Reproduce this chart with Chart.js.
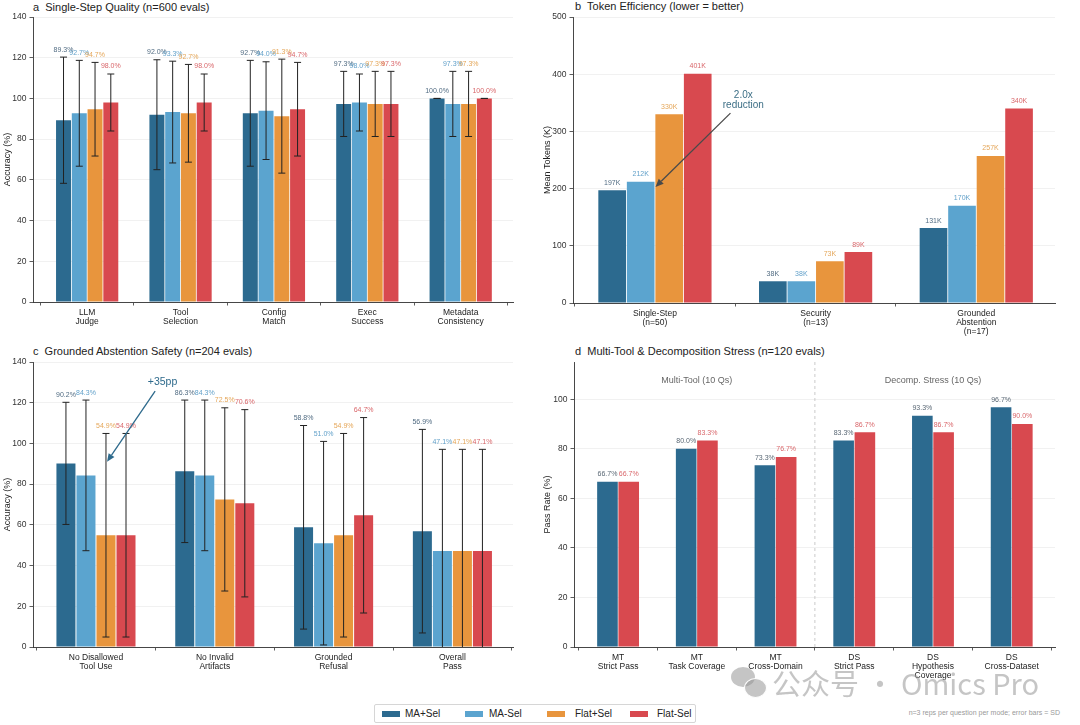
<!DOCTYPE html>
<html>
<head>
<meta charset="utf-8">
<script src="https://cdn.jsdelivr.net/npm/chart.js@4.4.1/dist/chart.umd.min.js"></script>
<style>
html,body{margin:0;padding:0;background:#fff;}
body{width:1080px;height:725px;position:relative;overflow:hidden;font-family:'Liberation Sans',Arial,sans-serif;}
.pc{position:absolute;}
.pc canvas{display:block;}
.ttl{position:absolute;font-size:11px;line-height:13px;color:#222;white-space:pre;}
#legend{position:absolute;left:374px;top:704px;width:322px;height:19px;border:1px solid #d6d6d6;border-radius:2px;box-sizing:border-box;background:#fff;}
.sw{position:absolute;top:6px;width:18px;height:6px;}
.lt{position:absolute;top:3px;font-size:10px;line-height:11px;color:#222;}
#note{position:absolute;right:20px;top:709px;font-size:7px;color:#999;white-space:nowrap;}
#wm{position:absolute;left:772px;top:666px;font-size:29px;line-height:32px;color:rgba(150,150,150,0.55);white-space:nowrap;font-family:'Noto Sans CJK SC','Liberation Sans',sans-serif;}
.bub{position:absolute;border-radius:50%;background:rgba(150,150,150,0.55);}
</style>
</head>
<body>
<div class="ttl" style="left:33px;top:1px;">a  Single-Step Quality (n=600 evals)</div>
<div class="ttl" style="left:575px;top:0px;">b  Token Efficiency (lower = better)</div>
<div class="ttl" style="left:33px;top:345px;">c  Grounded Abstention Safety (n=204 evals)</div>
<div class="ttl" style="left:575px;top:345px;">d  Multi-Tool &amp; Decomposition Stress (n=120 evals)</div>

<div class="pc" style="left:0;top:0;width:540px;height:345px;"><canvas id="cA"></canvas></div>
<div class="pc" style="left:540px;top:0;width:540px;height:345px;"><canvas id="cB"></canvas></div>
<div class="pc" style="left:0;top:345px;width:540px;height:345px;"><canvas id="cC"></canvas></div>
<div class="pc" style="left:540px;top:345px;width:540px;height:345px;"><canvas id="cD"></canvas></div>

<div class="bub" style="left:731px;top:667px;width:24px;height:20px;"></div>
<div class="bub" style="left:744px;top:678px;width:21px;height:18px;border:1.5px solid #fff;"></div>
<div id="wm">公众号 · Omics Pro</div>

<div id="legend">
  <div class="sw" style="left:7px;background:#2c6a8f;"></div><div class="lt" style="left:30px;">MA+Sel</div>
  <div class="sw" style="left:90px;background:#5ba4cf;"></div><div class="lt" style="left:114px;">MA-Sel</div>
  <div class="sw" style="left:172px;background:#e8953d;"></div><div class="lt" style="left:200px;">Flat+Sel</div>
  <div class="sw" style="left:255px;background:#d8494f;"></div><div class="lt" style="left:282px;">Flat-Sel</div>
</div>
<div id="note">n=3 reps per question per mode; error bars = SD</div>

<script>
// ---------------- DATA ----------------
const seriesNames = ['MA+Sel', 'MA-Sel', 'Flat+Sel', 'Flat-Sel'];

// Panel a: Single-Step Quality (accuracy %, SD)
const catsA = [['LLM','Judge'],['Tool','Selection'],['Config','Match'],['Exec','Success'],['Metadata','Consistency']];
const aMAplus    = [89.3, 92.0, 92.7, 97.3, 100.0];
const aMAminus   = [92.7, 93.3, 94.0, 98.0, 97.3];
const aFlatplus  = [94.7, 92.7, 91.3, 97.3, 97.3];
const aFlatminus = [98.0, 98.0, 94.7, 97.3, 100.0];
const aSdMAplus    = [31, 27, 26, 16, 0];
const aSdMAminus   = [26, 25, 24, 14, 16];
const aSdFlatplus  = [23, 24, 28, 16, 16];
const aSdFlatminus = [14, 14, 23, 16, 0];
const ticksA = [0, 20, 40, 60, 80, 100, 120, 140];

// Panel b: Token Efficiency (mean tokens, K)
const catsB = [['Single-Step','(n=50)'],['Security','(n=13)'],['Grounded','Abstention','(n=17)']];
const bMAplus    = [197, 38, 131];
const bMAminus   = [212, 38, 170];
const bFlatplus  = [330, 73, 257];
const bFlatminus = [401, 89, 340];
const ticksB = [0, 100, 200, 300, 400, 500];

// Panel c: Grounded Abstention Safety (accuracy %, SD)
const catsC = [['No Disallowed','Tool Use'],['No Invalid','Artifacts'],['Grounded','Refusal'],['Overall','Pass']];
const cMAplus    = [90.2, 86.3, 58.8, 56.9];
const cMAminus   = [84.3, 84.3, 51.0, 47.1];
const cFlatplus  = [54.9, 72.5, 54.9, 47.1];
const cFlatminus = [54.9, 70.6, 64.7, 47.1];
const cSdMAplus    = [30, 35, 50, 50];
const cSdMAminus   = [37, 37, 50, 50];
const cSdFlatplus  = [50, 45, 50, 50];
const cSdFlatminus = [50, 46, 48, 50];
const ticksC = [0, 20, 40, 60, 80, 100, 120, 140];

// Panel d: Multi-Tool & Decomposition Stress (pass rate %)
const catsD = [['MT','Strict Pass'],['MT','Task Coverage'],['MT','Cross-Domain'],['DS','Strict Pass'],['DS','Hypothesis','Coverage'],['DS','Cross-Dataset']];
const dMAplus    = [66.7, 80.0, 73.3, 83.3, 93.3, 96.7];
const dFlatminus = [66.7, 83.3, 76.7, 86.7, 86.7, 90.0];
const groupNamesD = ['Multi-Tool (10 Qs)', 'Decomp. Stress (10 Qs)'];
const ticksD = [0, 20, 40, 60, 80, 100];

// ---------------- STYLE ----------------
const FONT = "'Liberation Sans', Arial, sans-serif";
const COL = ['#2c6a8f', '#5ba4cf', '#e8953d', '#d8494f'];
const LABCOL = ['rgba(60,90,115,0.9)', 'rgba(80,150,195,0.9)', 'rgba(225,150,60,0.85)', 'rgba(210,75,80,0.85)'];

function mkds(label, vals, color) {
  return { label, data: vals.map((v, i) => ({ x: i, y: v })), backgroundColor: color, borderWidth: 0 };
}

function yScale(max, ticks, title, width) {
  return {
    type: 'linear', min: 0, max: max,
    afterBuildTicks: s => { s.ticks = ticks.map(v => ({ value: v })); },
    afterFit: s => { s.width = width; },
    grid: { color: '#ededed', lineWidth: 0.8, drawTicks: true, tickLength: 3.5, tickColor: '#333', tickWidth: 0.8 },
    border: { display: true, color: '#333', width: 0.9 },
    ticks: { font: { family: FONT, size: 8.5 }, color: '#333', padding: 3 },
    title: { display: true, text: title, font: { family: FONT, size: 9 }, color: '#222', padding: { top: 2, bottom: 0 } }
  };
}
function xScale(cats, min, max, height) {
  return {
    type: 'linear', min: min, max: max, offset: false,
    afterBuildTicks: s => { s.ticks = cats.map((c, i) => ({ value: i })); },
    afterFit: s => { s.height = height; },
    grid: { display: true, drawOnChartArea: false, drawTicks: true, tickLength: 3.5, tickColor: '#333', tickWidth: 0.8 },
    border: { display: true, color: '#333', width: 0.9 },
    ticks: { autoSkip: false, maxRotation: 0, minRotation: 0, font: { family: FONT, size: 8.5, lineHeight: 1.1 }, color: '#222', padding: 2,
             callback: (v) => cats[v] }
  };
}

const errorBarPlugin = {
  id: 'errbars',
  afterDatasetsDraw(chart, args, o) {
    if (!o || !o.sd) return;
    const { ctx, chartArea: ca, scales: { y } } = chart;
    ctx.save();
    ctx.beginPath(); ctx.rect(ca.left, ca.top - 1, ca.width, ca.height + 1); ctx.clip();
    ctx.strokeStyle = '#222'; ctx.lineWidth = 1;
    chart.data.datasets.forEach((ds, di) => {
      chart.getDatasetMeta(di).data.forEach((el, i) => {
        const v = ds.data[i].y, s = o.sd[di][i];
        const x = el.x, yt = y.getPixelForValue(v + s), yb = y.getPixelForValue(v - s), c = o.cap;
        ctx.beginPath();
        ctx.moveTo(x, yt); ctx.lineTo(x, yb);
        ctx.moveTo(x - c, yt); ctx.lineTo(x + c, yt);
        ctx.moveTo(x - c, yb); ctx.lineTo(x + c, yb);
        ctx.stroke();
      });
    });
    ctx.restore();
  }
};

const valueLabelPlugin = {
  id: 'vlabels',
  afterDatasetsDraw(chart, args, o) {
    if (!o || !o.fmt) return;
    const { ctx, scales: { y } } = chart;
    ctx.save();
    ctx.font = o.size + 'px ' + FONT;
    ctx.textAlign = 'center'; ctx.textBaseline = 'bottom';
    chart.data.datasets.forEach((ds, di) => {
      chart.getDatasetMeta(di).data.forEach((el, i) => {
        const v = ds.data[i].y;
        const top = v + (o.sd ? o.sd[di][i] : 0);
        ctx.fillStyle = o.colors[di];
        ctx.fillText(o.fmt(v), el.x, y.getPixelForValue(top) - o.gap);
      });
    });
    ctx.restore();
  }
};

function drawArrow(ctx, x1, y1, x2, y2, color) {
  const ang = Math.atan2(y2 - y1, x2 - x1), L = 8, W = 3.5;
  const bx = x2 - L * Math.cos(ang), by = y2 - L * Math.sin(ang);
  ctx.save();
  ctx.strokeStyle = color; ctx.fillStyle = color; ctx.lineWidth = 1.3;
  ctx.beginPath(); ctx.moveTo(x1, y1); ctx.lineTo(bx, by); ctx.stroke();
  ctx.beginPath();
  ctx.moveTo(x2, y2);
  ctx.lineTo(bx + W * Math.sin(ang), by - W * Math.cos(ang));
  ctx.lineTo(bx - W * Math.sin(ang), by + W * Math.cos(ang));
  ctx.closePath(); ctx.fill();
  ctx.restore();
}

function baseOptions(xs, ys, pad) {
  return {
    responsive: true, maintainAspectRatio: false, animation: false, events: [],
    layout: { padding: pad },
    scales: { x: xs, y: ys },
    plugins: { legend: { display: false }, tooltip: { enabled: false } }
  };
}

// ---------------- PANEL A ----------------
{
  const opts = baseOptions(xScale(catsA, -0.58, 4.56, 43), yScale(140, ticksA, 'Accuracy (%)', 33), { left: 0, right: 27, top: 17, bottom: 0 });
  opts.datasets = { bar: { categoryPercentage: 0.675, barPercentage: 0.95 } };
  opts.plugins.errbars = { sd: [aSdMAplus, aSdMAminus, aSdFlatplus, aSdFlatminus], cap: 3.5 };
  opts.plugins.vlabels = { sd: [aSdMAplus, aSdMAminus, aSdFlatplus, aSdFlatminus], fmt: v => v.toFixed(1) + '%', colors: LABCOL, size: 7, gap: 4 };
  new Chart(document.getElementById('cA'), {
    type: 'bar',
    data: { datasets: [mkds(seriesNames[0], aMAplus, COL[0]), mkds(seriesNames[1], aMAminus, COL[1]), mkds(seriesNames[2], aFlatplus, COL[2]), mkds(seriesNames[3], aFlatminus, COL[3])] },
    options: opts,
    plugins: [errorBarPlugin, valueLabelPlugin]
  });
}

// ---------------- PANEL B ----------------
{
  const annB = {
    id: 'annB',
    afterDatasetsDraw(chart) {
      const { ctx, scales: { x, y } } = chart;
      const el = chart.getDatasetMeta(1).data[0];
      drawArrow(ctx, x.getPixelForValue(0.47), y.getPixelForValue(332), el.x + el.width / 2 + 1, y.getPixelForValue(203), '#4a4a4a');
      ctx.save();
      ctx.fillStyle = '#3d6f86'; ctx.font = '10px ' + FONT; ctx.textAlign = 'center'; ctx.textBaseline = 'middle';
      ctx.fillText('2.0x', x.getPixelForValue(0.55), y.getPixelForValue(364));
      ctx.fillText('reduction', x.getPixelForValue(0.55), y.getPixelForValue(346));
      ctx.restore();
    }
  };
  const opts = baseOptions(xScale(catsB, -0.51, 2.49, 42), yScale(500, ticksB, 'Mean Tokens (K)', 33), { left: 0, right: 25, top: 17, bottom: 0 });
  opts.datasets = { bar: { categoryPercentage: 0.71, barPercentage: 0.97 } };
  opts.plugins.vlabels = { fmt: v => Math.round(v) + 'K', colors: LABCOL, size: 7, gap: 4 };
  new Chart(document.getElementById('cB'), {
    type: 'bar',
    data: { datasets: [mkds(seriesNames[0], bMAplus, COL[0]), mkds(seriesNames[1], bMAminus, COL[1]), mkds(seriesNames[2], bFlatplus, COL[2]), mkds(seriesNames[3], bFlatminus, COL[3])] },
    options: opts,
    plugins: [valueLabelPlugin, annB]
  });
}

// ---------------- PANEL C ----------------
{
  const annC = {
    id: 'annC',
    afterDatasetsDraw(chart) {
      const { ctx, scales: { x, y } } = chart;
      drawArrow(ctx, x.getPixelForValue(0.498), y.getPixelForValue(125.7), x.getPixelForValue(0.093), y.getPixelForValue(91), '#2e6a8c');
      ctx.save();
      ctx.fillStyle = '#2e6a8c'; ctx.font = '10.5px ' + FONT; ctx.textAlign = 'center'; ctx.textBaseline = 'middle';
      ctx.fillText('+35pp', x.getPixelForValue(0.56), y.getPixelForValue(130.3));
      ctx.restore();
    }
  };
  const opts = baseOptions(xScale(catsC, -0.53, 3.51, 43), yScale(140, ticksC, 'Accuracy (%)', 33), { left: 0, right: 27, top: 17, bottom: 0 });
  opts.datasets = { bar: { categoryPercentage: 0.674, barPercentage: 0.95 } };
  opts.plugins.errbars = { sd: [cSdMAplus, cSdMAminus, cSdFlatplus, cSdFlatminus], cap: 3.5 };
  opts.plugins.vlabels = { sd: [cSdMAplus, cSdMAminus, cSdFlatplus, cSdFlatminus], fmt: v => v.toFixed(1) + '%', colors: LABCOL, size: 7, gap: 4 };
  new Chart(document.getElementById('cC'), {
    type: 'bar',
    data: { datasets: [mkds(seriesNames[0], cMAplus, COL[0]), mkds(seriesNames[1], cMAminus, COL[1]), mkds(seriesNames[2], cFlatplus, COL[2]), mkds(seriesNames[3], cFlatminus, COL[3])] },
    options: opts,
    plugins: [errorBarPlugin, valueLabelPlugin, annC]
  });
}

// ---------------- PANEL D ----------------
{
  const annD = {
    id: 'annD',
    beforeDatasetsDraw(chart) {
      const { ctx, chartArea: ca, scales: { x } } = chart;
      const sx = x.getPixelForValue(2.5);
      ctx.save();
      ctx.strokeStyle = '#c4c4c4'; ctx.lineWidth = 0.9; ctx.setLineDash([3, 3]);
      ctx.beginPath(); ctx.moveTo(sx, ca.top); ctx.lineTo(sx, ca.bottom); ctx.stroke();
      ctx.restore();
    },
    afterDatasetsDraw(chart) {
      const { ctx, scales: { x, y } } = chart;
      ctx.save();
      ctx.fillStyle = '#666'; ctx.font = '9px ' + FONT; ctx.textAlign = 'center'; ctx.textBaseline = 'middle';
      ctx.fillText(groupNamesD[0], x.getPixelForValue(1), y.getPixelForValue(107.6));
      ctx.fillText(groupNamesD[1], x.getPixelForValue(4), y.getPixelForValue(107.6));
      ctx.restore();
    }
  };
  const opts = baseOptions(xScale(catsD, -0.56, 5.55, 43), yScale(115, ticksD, 'Pass Rate (%)', 34), { left: 0, right: 25, top: 17, bottom: 0 });
  opts.datasets = { bar: { categoryPercentage: 0.54, barPercentage: 0.97 } };
  opts.plugins.vlabels = { fmt: v => v.toFixed(1) + '%', colors: ['rgba(70,85,100,0.9)', LABCOL[3]], size: 7, gap: 4 };
  new Chart(document.getElementById('cD'), {
    type: 'bar',
    data: { datasets: [mkds(seriesNames[0], dMAplus, COL[0]), mkds(seriesNames[3], dFlatminus, COL[3])] },
    options: opts,
    plugins: [valueLabelPlugin, annD]
  });
}
</script>
</body>
</html>
